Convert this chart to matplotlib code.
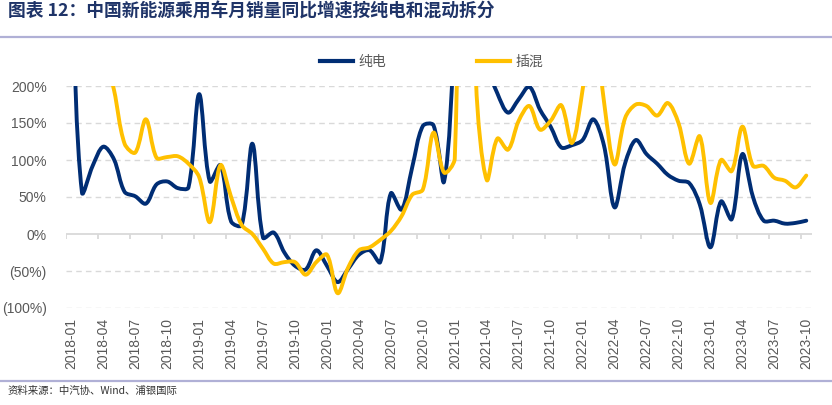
import matplotlib
matplotlib.use('Agg')
import matplotlib.pyplot as plt
import numpy as np
from matplotlib.path import Path
from matplotlib.patches import PathPatch
from matplotlib.lines import Line2D

plt.rcParams['font.family'] = ['Liberation Sans', 'Noto Sans CJK SC', 'DejaVu Sans']

# 2018-01 .. 2023-10, monthly
months = [f'{y}-{m:02d}' for y in range(2018, 2024) for m in range(1, 13)][:70]

# 纯电 yoy growth, %
bev = [340, 56, 92, 118, 101, 57, 51, 41, 67, 71, 62, 63,
       189, 71, 93, 17, 12, 122, -5, 2, -25, -43, -48, -22,
       -43, -65, -47, -28, -22, -38, 55, 33, 90, 146, 147, 71,
       280, 700, 320, 230, 190, 164, 182, 199, 168, 145, 117, 120,
       127, 155, 120, 36, 96, 127, 108, 95, 80, 72, 69, 40,
       -18, 44, 20, 108, 50, 18, 18, 14, 15, 18]
# 插混 yoy growth, %
phev = [500, 420, 330, 250, 195, 122, 110, 155, 103, 104, 105, 95,
        77, 16, 93, 50, 12, 0, -20, -40, -38, -38, -55, -38,
        -28, -80, -45, -22, -18, -8, 4, 24, 53, 60, 137, 83,
        102, 900, 205, 73, 129, 114, 153, 173, 141, 153, 174, 123,
        195, 300, 180, 94, 157, 175, 173, 160, 177, 150, 95, 132,
        42, 100, 85, 145, 92, 92, 76, 72, 63, 79]

yticks = [200, 150, 100, 50, 0, -50, -100]
ytick_labels = ['200%', '150%', '100%', '50%', '0%', '(50%)', '(100%)']

blue = '#002D74'
gold = '#FFC000'
grid_c = '#D9D9D9'
text_c = '#595959'


def smooth_path(ax, xs, ys):
    # bezier smoothing like the spreadsheet "smoothed line" option
    pts = ax.transData.transform(np.column_stack([xs, ys]).astype(float))
    n = len(pts)
    verts = [pts[0]]
    codes = [Path.MOVETO]
    for i in range(n - 1):
        p0 = pts[i - 1] if i > 0 else pts[i]
        p1 = pts[i]
        p2 = pts[i + 1]
        p3 = pts[i + 2] if i + 2 < n else pts[i + 1]
        d01 = np.hypot(*(p1 - p0))
        d12 = np.hypot(*(p2 - p1))
        d23 = np.hypot(*(p3 - p2))
        c1 = p1 + (p2 - p0) * d12 / (3 * (d01 + d12))
        c2 = p2 - (p3 - p1) * d12 / (3 * (d12 + d23))
        verts += [c1, c2, p2]
        codes += [Path.CURVE4] * 3
    verts = ax.transData.inverted().transform(np.array(verts))
    return Path(verts, codes)


fig = plt.figure(figsize=(8.32, 4.05), dpi=100)
fig.subplots_adjust(left=66 / 832, right=811.6 / 832, top=1 - 86 / 405, bottom=1 - 308 / 405)
ax = fig.add_subplot(111)
ax.set_xlim(-0.5, 69.5)
ax.set_ylim(-100, 200)

x = np.arange(len(months))

for v in yticks:
    if v != 0:
        ax.axhline(v, color=grid_c, lw=1, linestyle=(0, (4, 3)), zorder=1)
ax.axhline(0, color=grid_c, lw=1.3, zorder=1)
tick_x = np.arange(-0.5, 69, 3)
ax.vlines(tick_x, -7, 0, color=grid_c, lw=1.3, zorder=1)

for series, col in [(bev, blue), (phev, gold)]:
    p = smooth_path(ax, x, series)
    ax.add_patch(PathPatch(p, fill=False, edgecolor=col, lw=2.8,
                           capstyle='round', joinstyle='round', zorder=3))

ax.set_yticks(yticks)
ax.set_yticklabels(ytick_labels, fontsize=10, color=text_c)
ax.set_xticks(x[::3])
ax.set_xticklabels(months[::3], rotation=90, fontsize=10, color=text_c)
ax.tick_params(axis='y', length=0, pad=14)
ax.tick_params(axis='x', length=0, pad=7)
for s in ax.spines.values():
    s.set_visible(False)

handles = [Line2D([], [], color=blue, lw=3), Line2D([], [], color=gold, lw=3)]
fig.legend(handles, ['纯电', '插混'], loc='center', bbox_to_anchor=(0.519, 1 - 62 / 405),
           ncol=2, frameon=False, handlelength=2.4, handletextpad=0.4,
           columnspacing=6.5, prop={'family': ['Noto Sans CJK SC'], 'size': 10},
           labelcolor=text_c)

fig.text(8 / 832, 1 - 12 / 405, '图表 12：中国新能源乘用车月销量同比增速按纯电和混动拆分',
         family=['Noto Sans CJK SC'], fontsize=12.8, fontweight='bold', color='#1F3468',
         va='center', ha='left')
fig.add_artist(Line2D([0, 1], [1 - 37 / 405] * 2, transform=fig.transFigure, color='#B0B0D6', lw=1.6))
fig.add_artist(Line2D([0, 1], [1 - 381 / 405] * 2, transform=fig.transFigure, color='#B0B0D6', lw=1.6))
fig.text(8 / 832, 1 - 391 / 405, '资料来源：中汽协、Wind、浦银国际',
         family=['Noto Sans CJK SC'], fontsize=7.5, color='#333333', va='center', ha='left')

fig.savefig('out.png', dpi=100)
